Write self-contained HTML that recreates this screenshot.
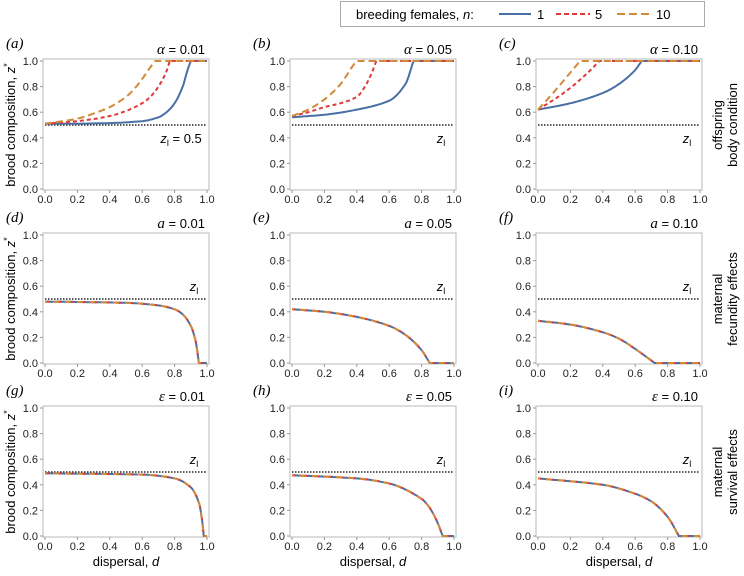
<!DOCTYPE html>
<html><head><meta charset="utf-8"><style>
body{margin:0;background:#fff;}
svg{display:block;font-family:"Liberation Sans",sans-serif;}
</style></head><body>
<svg id="fig" width="744" height="576" viewBox="0 0 744 576">
<g>
<rect x="340.5" y="1.5" width="364" height="25" fill="#fff" stroke="#aaa"/>
<text x="356" y="19" font-size="13">breeding females, <tspan font-style="italic">n</tspan>:</text>
<line x1="499" y1="14" x2="531" y2="14" stroke="#4a6fa5" stroke-width="2"/>
<text x="537" y="19" font-size="13">1</text>
<line x1="556" y1="14" x2="590" y2="14" stroke="#e0393a" stroke-width="2" stroke-dasharray="5,3"/>
<text x="595" y="19" font-size="13">5</text>
<line x1="617" y1="14" x2="651" y2="14" stroke="#d08a3a" stroke-width="2" stroke-dasharray="8,4"/>
<text x="656" y="19" font-size="13">10</text>
</g>
</svg>
<script>
const panelLabels=["a","b","c","d","e","f","g","h","i"];
const paramNames=["α","α","α","a","a","a","ε","ε","ε"];
const paramValues=["0.01","0.05","0.10","0.01","0.05","0.10","0.01","0.05","0.10"];
const ticks=[0,0.2,0.4,0.6,0.8,1.0];
const zl=0.5;
// series per panel: [d,z] pairs
const n1=[
[[0,.51],[.2,.51],[.4,.515],[.6,.53],[.7,.56],[.75,.6],[.8,.67],[.85,.8],[.88,.93],[.9,1],[1,1]],
[[0,.56],[.2,.58],[.4,.62],[.6,.69],[.7,.82],[.75,1],[1,1]],
[[0,.62],[.2,.67],[.4,.75],[.5,.82],[.6,.93],[.64,1],[1,1]],
[[0,.48],[.5,.47],[.7,.45],[.8,.42],[.85,.38],[.9,.29],[.93,.17],[.95,0],[1,0]],
[[0,.42],[.2,.40],[.4,.36],[.6,.29],[.7,.22],[.8,.1],[.85,0],[1,0]],
[[0,.33],[.2,.30],[.4,.24],[.5,.19],[.6,.11],[.72,0],[1,0]],
[[0,.49],[.6,.48],[.8,.45],[.9,.38],[.95,.26],[.97,.12],[.98,0],[1,0]],
[[0,.475],[.4,.45],[.6,.41],[.8,.29],[.85,.22],[.9,.1],[.93,0],[1,0]],
[[0,.45],[.4,.40],[.6,.33],[.7,.27],[.8,.15],[.87,0],[1,0]]];
const n5=[
[[0,.51],[.2,.53],[.4,.57],[.5,.61],[.6,.67],[.65,.72],[.7,.8],[.75,.92],[.77,1],[1,1]],
[[0,.57],[.1,.6],[.2,.64],[.3,.67],[.4,.72],[.45,.8],[.5,.93],[.52,1],[1,1]],
[[0,.62],[.1,.7],[.2,.79],[.3,.9],[.38,1],[1,1]],
null,null,null,null,null,null];
const n10=[
[[0,.51],[.2,.55],[.3,.59],[.4,.64],[.5,.72],[.55,.78],[.6,.86],[.65,.95],[.68,1],[1,1]],
[[0,.57],[.1,.62],[.2,.7],[.3,.82],[.38,.97],[.4,1],[1,1]],
[[0,.62],[.1,.76],[.2,.91],[.26,1],[1,1]],
null,null,null,null,null,null];
const rowNotes=[["offspring","body condition"],["maternal","fecundity effects"],["maternal","survival effects"]];

const svg=document.getElementById('fig');
const NS="http://www.w3.org/2000/svg";
const colX=[45,292,538], W=162;
const rowTop=[61,235,408], H=128;
function mk(tag,attrs,parent){const e=document.createElementNS(NS,tag);for(const k in attrs)e.setAttribute(k,attrs[k]);(parent||svg).appendChild(e);return e;}
// monotone cubic path; kink where following segment is flat
function smoothPath(P){
  const n=P.length, s=[], m=[];
  for(let i=0;i<n-1;i++)s.push((P[i+1][1]-P[i][1])/(P[i+1][0]-P[i][0]));
  for(let i=0;i<n;i++){
    if(i===0)m.push(s[0]);
    else if(i===n-1)m.push(s[n-2]);
    else if(Math.abs(s[i])<1e-9)m.push(s[i-1]);
    else if(Math.abs(s[i-1])<1e-9)m.push(s[i]);
    else if(s[i-1]*s[i]<=0)m.push(0);
    else m.push(2/(1/s[i-1]+1/s[i]));
  }
  const out=[[P[0][0],P[0][1]]];
  for(let i=0;i<n-1;i++){
    const h=P[i+1][0]-P[i][0];
    if(Math.abs(s[i])<1e-9){out.push([P[i+1][0],P[i+1][1]]);continue;}
    for(let k=1;k<=12;k++){
      const t=k/12,t2=t*t,t3=t2*t;
      const y=(2*t3-3*t2+1)*P[i][1]+(t3-2*t2+t)*h*m[i]+(-2*t3+3*t2)*P[i+1][1]+(t3-t2)*h*m[i+1];
      out.push([P[i][0]+t*h,Math.max(0,Math.min(1,y))]);
    }
  }
  return out;
}
function line(pts,sx,sy,attrs,g,name,smooth){
  const q=smooth?smoothPath(pts):pts;
  const p=mk('path',Object.assign({d:q.map((v,i)=>(i?'L':'M')+sx(v[0]).toFixed(1)+','+sy(v[1]).toFixed(1)).join(''),fill:'none','stroke-linejoin':'round'},attrs),g);
  
  
}
for(let i=0;i<9;i++){
  const r=Math.floor(i/3),c=i%3;
  const x0=colX[c],y0=rowTop[r];
  const sx=d=>x0+d*W, sy=z=>y0+H-z*H;
  const g=mk('g',{});
  
  
  const fr=mk('rect',{x:x0-2,y:y0-2,width:W+4,height:H+3,fill:'none',stroke:'#c4c4c4','stroke-width':1.2},g);
  
  
  ticks.forEach(t=>{
    const ty=mk('text',{x:x0-7,y:sy(t)+4,'font-size':11,'text-anchor':'end',fill:'#222'},g);ty.textContent=t.toFixed(1);
    
    
    const tx=mk('text',{x:sx(t),y:y0+H+14,'font-size':11,'text-anchor':'middle',fill:'#222'},g);tx.textContent=t.toFixed(1);
    
    
    mk('line',{x1:x0-2,x2:x0-5,y1:sy(t),y2:sy(t),stroke:'#999'},g);
    mk('line',{x1:sx(t),x2:sx(t),y1:y0+H+1,y2:y0+H+4,stroke:'#999'},g);
  });
  const pl=mk('text',{x:x0-39,y:y0-13,'font-size':15,'font-family':'Liberation Serif, serif','font-style':'italic'},g);pl.textContent='('+panelLabels[i]+')';
  
  
  const pt=mk('text',{x:x0+W-2,y:y0-7,'font-size':13,'text-anchor':'end'},g);
  pt.innerHTML='<tspan font-style="italic" font-family="Liberation Serif, serif" font-size="15">'+paramNames[i]+'</tspan> = '+paramValues[i];
  
  
  line([[0,zl],[1,zl]],sx,sy,{stroke:'#222','stroke-width':1.5,'stroke-dasharray':'1.5,1.5'},g,'zl-reference-line',false);
  const zt=mk('text',{x:sx(0.92),y:sy(zl)+(r===0?18:-8),'font-size':13,'text-anchor':'middle'},g);
  zt.innerHTML='<tspan font-style="italic">z</tspan><tspan font-size="9" dy="3">l</tspan>'+(i===0?'<tspan dy="-3"> = 0.5</tspan>':'');
  if(i===0)zt.setAttribute('x',sx(0.84));
  
  
  line(n1[i],sx,sy,{stroke:'#4a6fa5','stroke-width':2},g,'series-n1',true);
  line(n5[i]||n1[i],sx,sy,{stroke:'#e0393a','stroke-width':2,'stroke-dasharray':n5[i]?'4,3':'4,8'},g,'series-n5',true);
  line(n10[i]||n1[i],sx,sy,{stroke:'#d08a3a','stroke-width':2,'stroke-dasharray':n10[i]?'7,4':'6,6','stroke-dashoffset':n10[i]?0:4},g,'series-n10',true);
  if(c===0){
    const yl=mk('text',{transform:`translate(15,${y0+H/2}) rotate(-90)`,'font-size':13,'text-anchor':'middle'},g);
    yl.innerHTML='brood composition, <tspan font-style="italic">z</tspan><tspan font-size="9" dy="-5">*</tspan>';
    
    
  }
  if(r===2){
    const xl=mk('text',{x:x0+W/2,y:566,'font-size':13,'text-anchor':'middle'},g);
    xl.innerHTML='dispersal, <tspan font-style="italic">d</tspan>';
    
    
  }
  if(c===2){
    const rn=mk('text',{transform:`translate(724,${y0+H/2}) rotate(-90)`,'font-size':13,'text-anchor':'middle'},g);
    rn.innerHTML='<tspan x="0" dy="-2">'+rowNotes[r][0]+'</tspan><tspan x="0" dy="15">'+rowNotes[r][1]+'</tspan>';
    
    
  }
}
</script>
</body></html>
